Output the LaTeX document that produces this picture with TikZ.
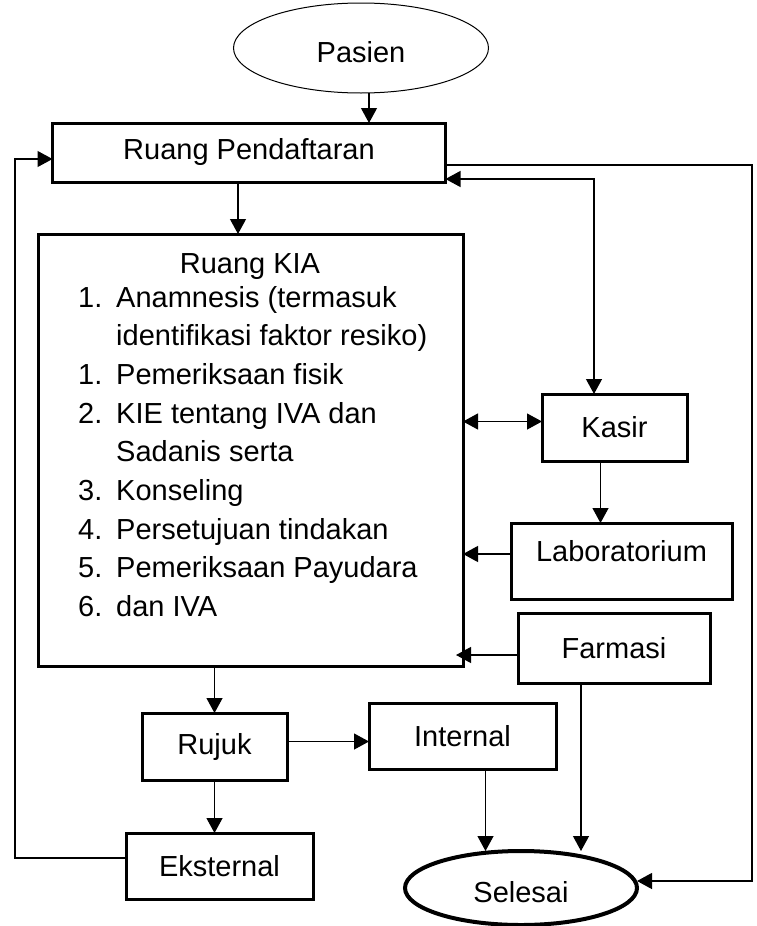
\documentclass[tikz,border=0pt]{standalone}
\usepackage{fontspec}
\setmainfont{Liberation Sans}
\usetikzlibrary{shapes}
\usetikzlibrary{arrows.meta}
\usetikzlibrary{calc}

\tikzset{%
  box/.style = {draw, line width = 3pt, inner sep = 0 pt, outer sep = 0 pt},
  oval/.style = {draw, ellipse, inner sep = 0 pt, outer sep = 0 pt, text height = 29pt, text depth = 0pt},
  line/.style = {line width = 1.2pt},
  arr/.style = {line, -{Triangle[length = 15pt, width = 16pt]}},
  dblarr/.style = {line, {Triangle[length = 15pt, width = 16pt]}-{Triangle[length = 15pt, width = 16pt]}}
}

\begin{document}
\begin{tikzpicture}[x = 1pt, y = -1pt, font = \fontsize{29}{38.7}\selectfont]
  \useasboundingbox (0, 0) rectangle (757, 926);

  \node[oval, line width = 1pt, minimum width = 255pt, minimum height = 90pt] (pasien) at (361, 48) {Pasien};
  \node[box, minimum width = 393pt, minimum height = 59pt] (daftar) at (249, 152.5) {Ruang Pendaftaran};
  \node[box, minimum width = 425pt, minimum height = 432pt] (kia) at (250.5, 450) {};
  \node[anchor = base, inner sep = 0 pt] (kiahead) at (250, 273) {Ruang KIA};
  \node[anchor = base west, inner sep = 0 pt] (kialist) at (78, 307) {%
    \begin{tabular}[t]{@{}l@{}}
      \makebox[38pt][l]{1.}Anamnesis (termasuk\\
      \makebox[38pt][l]{}identifikasi faktor resiko)\\
      \makebox[38pt][l]{1.}Pemeriksaan fisik\\
      \makebox[38pt][l]{2.}KIE tentang IVA dan\\
      \makebox[38pt][l]{}Sadanis serta\\
      \makebox[38pt][l]{3.}Konseling\\
      \makebox[38pt][l]{4.}Persetujuan tindakan\\
      \makebox[38pt][l]{5.}Pemeriksaan Payudara\\
      \makebox[38pt][l]{6.}dan IVA
    \end{tabular}};
  \node[box, minimum width = 145pt, minimum height = 67pt] (kasir) at (614.5, 427.5) {Kasir};
  \node[box, minimum width = 221pt, text height = 38pt, text depth = 38pt] (lab) at (621.5, 561) {Laboratorium};
  \node[box, minimum width = 192pt, minimum height = 70pt] (farmasi) at (614, 648) {Farmasi};
  \node[box, minimum width = 145pt, minimum height = 67pt] (rujuk) at (214.5, 746.5) {Rujuk};
  \node[box, minimum width = 187pt, minimum height = 66pt] (internal) at (462.5, 736) {Internal};
  \node[box, minimum width = 187pt, minimum height = 66pt] (eksternal) at (219.5, 866) {Eksternal};
  \node[oval, line width = 4pt, minimum width = 232pt, minimum height = 74pt] (selesai) at (521, 888) {Selesai};

  \coordinate (lefttop) at (15, 159);
  \coordinate (righttop) at (752, 165);
  \coordinate (rightbot) at (752, 881);
  \coordinate (kasirtop) at (594, 179);

  \draw[arr] ([xshift = 8pt]pasien.south) -- ([xshift = 8pt]pasien.south |- daftar.north);
  \draw[arr] ([xshift = -11pt]daftar.south) -- ([xshift = -11pt]daftar.south |- kia.north);
  \draw[arr] ([yshift = 8pt]eksternal.west) -| (lefttop) -- (lefttop -| daftar.west);
  \draw[arr] (righttop -| daftar.east) -- (righttop) -- (rightbot) -- ([yshift = 7pt]selesai.east);
  \draw[dblarr] (kasirtop -| daftar.east) -- (kasirtop) -- (kasirtop |- kasir.north);
  \draw[dblarr] ([yshift = 6pt]kasir.west -| kia.east) -- ([yshift = 6pt]kasir.west);
  \draw[arr] ([xshift = -14pt]kasir.south) -- ([xshift = -14pt]kasir.south |- lab.north);
  \draw[arr] ([yshift = 7pt]lab.west) -- ([yshift = 7pt]lab.west -| kia.east);
  \draw[arr] ([yshift = -7pt]farmasi.west) -- ([yshift = -7pt, xshift = -7pt]farmasi.west -| kia.east);
  \draw[arr] ([xshift = -33pt]farmasi.south) -- ([xshift = -33pt]farmasi.south |- selesai.north);
  \draw[arr] (kia.south -| rujuk.north) -- (rujuk.north);
  \draw[arr] ([yshift = 5pt]rujuk.east) -- ([yshift = 5pt]rujuk.east -| internal.west);
  \draw[arr] (rujuk.south) -- (rujuk.south |- eksternal.north);
  \draw[arr] ([xshift = 23pt]internal.south) -- ([xshift = 23pt]internal.south |- selesai.north);
\end{tikzpicture}
\end{document}
